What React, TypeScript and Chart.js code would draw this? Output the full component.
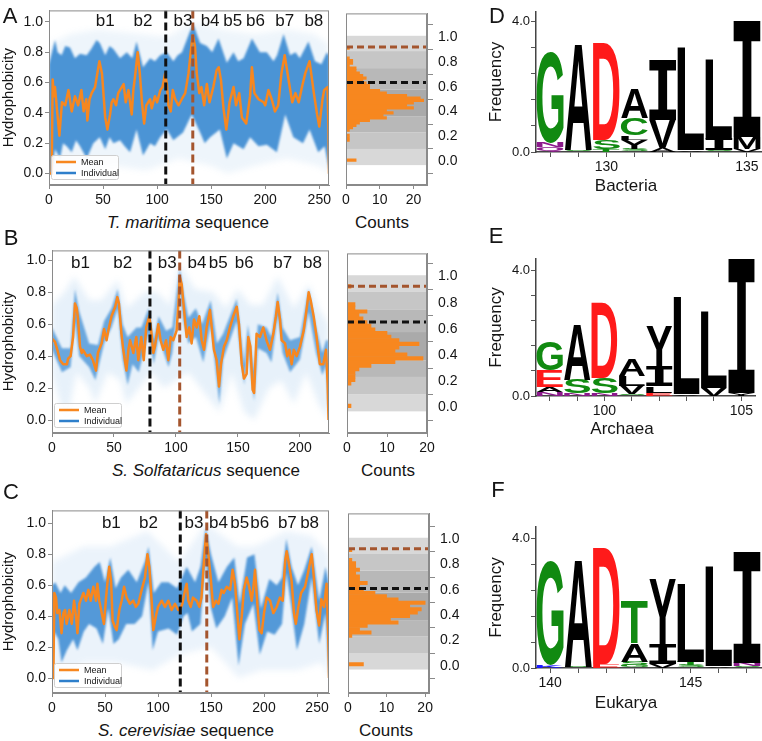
import React, { useEffect, useRef } from 'react';
import { Chart, registerables } from 'chart.js';

// ---------- blur plugin (registered before filler so the fill gets blurred) ----------
const bandBlur = {
  id: 'bandBlur',
  beforeDatasetDraw(chart: any, args: any) {
    const ds: any = chart.data.datasets[args.index];
    if (ds && ds.blurPx) {
      chart.ctx.save();
      chart.ctx.filter = `blur(${ds.blurPx}px)`;
    }
  },
  afterDatasetDraw(chart: any, args: any) {
    const ds: any = chart.data.datasets[args.index];
    if (ds && ds.blurPx) chart.ctx.restore();
  },
};
Chart.register(bandBlur as any);
Chart.register(...registerables);

const FONT = '"Liberation Sans", Arial, Helvetica, sans-serif';
const TXT = '#151515';
const FRAME = '#8a8a8a';
const ORANGE = '#f7871f';
const BROWN = '#a4552e';
const LEGEND_BLUE = '#2e7fcb';

// ---------------- DATA ----------------
const B_LABELS = ['b1', 'b2', 'b3', 'b4', 'b5', 'b6', 'b7', 'b8'];

// Panel A: T. maritima
const meanA: [number, number][] = [
  [0, 0], [2.5, 0], [3.4, 0.62], [4.5, 0.51], [5.5, 0.57], [9.6, 0.25], [12, 0.47], [15, 0.45], [18, 0.55], [21, 0.41],
  [24, 0.51], [27, 0.45], [30, 0.55], [32, 0.41], [34.5, 0.49], [35.5, 0.35], [37.5, 0.49], [39.5, 0.53], [42.6, 0.57],
  [46.6, 0.74], [49, 0.66], [52, 0.37], [54, 0.29], [56.5, 0.39], [58, 0.47], [59.6, 0.49], [62, 0.45], [64, 0.53],
  [69, 0.59], [71, 0.47], [73.5, 0.55], [76.5, 0.39], [78, 0.55], [79.6, 0.64], [82, 0.8], [84, 0.66], [86, 0.47],
  [88, 0.33], [90, 0.45], [93.5, 0.49], [95, 0.43], [98, 0.51], [100, 0.47], [103, 0.55], [105, 0.57], [107.4, 0.66],
  [109, 0.59], [110.5, 0.45], [112.6, 0.41], [114.5, 0.55], [116.7, 0.49], [119.8, 0.45], [122.8, 0.49], [126, 0.53],
  [129, 0.66], [132, 0.86], [133, 0.91], [135, 0.84], [136.7, 0.66], [139, 0.53], [141, 0.57], [143.5, 0.45], [146, 0.59],
  [148.5, 0.47], [152, 0.57], [155, 0.68], [157, 0.7], [159, 0.62], [161.4, 0.43], [164, 0.29], [167, 0.47], [170.7, 0.57],
  [173, 0.45], [176, 0.53], [178.4, 0.37], [182.4, 0.33], [186, 0.51], [187.7, 0.7], [190, 0.53], [193.8, 0.49],
  [198.5, 0.47], [200, 0.45], [203, 0.55], [206, 0.49], [209, 0.41], [212, 0.45], [215, 0.66], [218, 0.78], [222, 0.6],
  [225, 0.47], [228, 0.53], [231, 0.47], [234, 0.57], [237, 0.66], [241, 0.74], [245, 0.53], [248, 0.39], [250, 0.31],
  [253, 0.49], [254.5, 0.55], [257.6, 0.57], [258.5, 0.3], [259, 0.0],
];
const coreUpA: [number, number][] = [
  [0, 0.72], [2, 0.78], [5.6, 0.88], [8, 0.8], [11.7, 0.78], [15, 0.84], [19.4, 0.83], [24, 0.76], [28.7, 0.79], [34.9, 0.78],
  [39, 0.82], [44, 0.88], [47, 0.86], [52, 0.78], [56, 0.84], [59.6, 0.82], [65.7, 0.76], [72, 0.8], [77, 0.76], [81, 0.87],
  [87, 0.7], [93.5, 0.76], [98, 0.74], [102.8, 0.78], [109, 0.8], [115, 0.74], [119, 0.78], [123, 0.8], [130.5, 0.94],
  [133.6, 0.98], [139.8, 0.86], [146, 0.84], [151, 0.8], [156.8, 0.89], [164.5, 0.73], [170.7, 0.8], [175, 0.74], [180, 0.76],
  [187.7, 0.89], [195, 0.8], [201.5, 0.8], [207.7, 0.74], [211, 0.78], [217, 0.92], [223, 0.78], [228, 0.8], [232, 0.76],
  [240, 0.87], [246, 0.74], [252, 0.72], [257, 0.8], [259, 0.78],
];
const coreLoA: [number, number][] = [
  [0, 0], [2.5, 0.0], [5.6, 0.16], [10.2, 0.1], [13, 0.2], [16.4, 0.18], [21, 0.14], [25, 0.22], [28.7, 0.18], [34.9, 0.1],
  [41, 0.2], [47, 0.24], [52, 0.16], [56, 0.24], [59.6, 0.2], [65.7, 0.22], [70, 0.18], [75, 0.14], [81, 0.29], [87, 0.12],
  [93.5, 0.2], [98, 0.18], [102.8, 0.24], [109, 0.29], [115, 0.22], [124, 0.27], [132, 0.39], [139.8, 0.27], [144, 0.2],
  [149, 0.24], [158, 0.29], [164.5, 0.1], [170.7, 0.2], [180, 0.16], [186, 0.24], [193.8, 0.18], [201.5, 0.19],
  [210.8, 0.14], [218.5, 0.39], [226, 0.24], [235, 0.2], [241, 0.29], [249, 0.14], [255, 0.18], [259, 0.02],
];
const haloUpA: [number, number][] = [
  [0, 0.85], [20, 0.92], [45, 0.95], [85, 0.92], [110, 0.9], [133, 1.0], [160, 0.95], [190, 0.92], [220, 0.95], [245, 0.92], [259, 0.85],
];
const haloLoA: [number, number][] = [
  [0, 0.0], [15, 0.0], [40, 0.0], [60, 0.05], [90, 0.02], [120, 0.1], [150, 0.05], [165, 0.0], [190, 0.05], [220, 0.1], [250, 0.05], [259, 0.0],
];
const bPosA = [52, 87, 124, 149, 170, 191, 218, 245];
const dashA = { black: 108, brown: 133 };
const histA_y = [0.01, 0.17, 0.19, 0.21, 0.25, 0.27, 0.29, 0.31, 0.33, 0.35, 0.37, 0.39, 0.41, 0.43, 0.45, 0.47, 0.49, 0.51,
  0.53, 0.55, 0.57, 0.59, 0.61, 0.63, 0.65, 0.67, 0.69, 0.71, 0.73, 0.75, 0.77, 0.79, 0.81, 0.83, 0.91];
const histA_n = [3, 1, 1, 1, 1, 2, 3, 4, 7, 12, 11, 14, 12, 20, 18, 20, 23, 22, 18, 12, 10, 7, 7, 6, 5, 6, 5, 4, 3, 3, 1, 2, 2, 1, 1];
const histDashA = { brown: 0.92, black: 0.635 };

// Panel B: S. Solfataricus
const meanB: [number, number][] = [
  [0, 0.51], [2.4, 0.49], [4.3, 0.44], [6.5, 0.375], [9, 0.35], [12, 0.35], [13, 0.385], [15, 0.4], [17, 0.52], [18.5, 0.73],
  [20, 0.7], [21, 0.63], [22.6, 0.46], [24, 0.42], [25, 0.44], [28, 0.4], [30.6, 0.41], [33, 0.375], [35.5, 0.31], [37, 0.42],
  [40, 0.48], [42, 0.57], [44, 0.5], [45.4, 0.56], [48, 0.65], [51, 0.71], [52.7, 0.77], [54, 0.73], [56, 0.54], [57.5, 0.44],
  [60, 0.31], [61.6, 0.44], [63, 0.5], [65.6, 0.42], [68, 0.52], [69.6, 0.375], [72, 0.52], [74, 0.375], [76, 0.58],
  [78.5, 0.65], [80, 0.56], [81.7, 0.42], [83, 0.46], [85.7, 0.6], [87.6, 0.5], [89.8, 0.44], [92, 0.5], [93.8, 0.375],
  [95.7, 0.52], [97.8, 0.5], [100.5, 0.56], [102, 0.73], [103, 0.9], [104.6, 0.85], [106, 0.73], [108.6, 0.52], [110.7, 0.58],
  [112.6, 0.48], [114.5, 0.63], [116.7, 0.58], [118.8, 0.65], [120.7, 0.5], [122.6, 0.44], [124.7, 0.58], [127.4, 0.69],
  [128.8, 0.58], [130.6, 0.44], [132.8, 0.375], [134.7, 0.21], [136.3, 0.35], [138.7, 0.46], [140.9, 0.5], [143.5, 0.58],
  [146.2, 0.65], [149, 0.71], [150.8, 0.6], [153, 0.35], [154.8, 0.26], [157, 0.29], [158.3, 0.52], [160, 0.46], [161.8, 0.19],
  [163, 0.17], [165, 0.54], [167.7, 0.52], [170.4, 0.58], [173, 0.5], [175.8, 0.44], [178.5, 0.54], [180.6, 0.65], [182, 0.74],
  [183.9, 0.63], [185.2, 0.5], [188, 0.48], [189.8, 0.4], [191.4, 0.44], [193.3, 0.35], [195, 0.44], [197.3, 0.4], [200, 0.46],
  [203, 0.56], [205.6, 0.71], [207, 0.8], [208.6, 0.75], [211, 0.65], [213.4, 0.52], [216, 0.35], [218.8, 0.35], [221, 0.44],
  [222.3, 0.23], [223, 0.0],
];
const coreUpB: [number, number][] = [
  [0, 0.58], [8, 0.45], [15, 0.45], [18.5, 0.82], [22, 0.68], [30, 0.48], [37, 0.47], [42, 0.62], [48, 0.7], [53, 0.82],
  [57, 0.6], [61, 0.52], [68, 0.58], [72, 0.58], [78, 0.7], [82, 0.5], [86, 0.65], [92, 0.56], [97, 0.58], [103, 0.95],
  [106, 0.8], [110, 0.64], [116, 0.7], [121, 0.6], [128, 0.75], [133, 0.48], [138, 0.54], [149, 0.76], [155, 0.35],
  [158, 0.6], [163, 0.3], [166, 0.6], [173, 0.58], [177, 0.52], [182, 0.8], [186, 0.58], [192, 0.5], [200, 0.52],
  [207, 0.82], [213, 0.58], [218, 0.42], [221, 0.5], [223, 0.5],
];
const coreLoB: [number, number][] = [
  [0, 0.44], [8, 0.3], [15, 0.33], [18.5, 0.62], [22, 0.4], [30, 0.33], [35, 0.25], [42, 0.48], [48, 0.58], [53, 0.7],
  [57, 0.38], [61, 0.22], [65, 0.35], [70, 0.3], [78, 0.55], [82, 0.35], [86, 0.52], [94, 0.33], [97, 0.42], [103, 0.82],
  [106, 0.62], [110, 0.48], [116, 0.52], [122, 0.36], [128, 0.6], [135, 0.1], [138, 0.38], [149, 0.62], [155, 0.22],
  [158, 0.45], [163, 0.12], [166, 0.45], [173, 0.42], [177, 0.36], [182, 0.66], [186, 0.42], [192, 0.3], [200, 0.38],
  [207, 0.68], [213, 0.42], [218, 0.28], [221, 0.34], [223, 0.0],
];
const haloUpB: [number, number][] = [
  [0, 0.72], [10, 0.8], [18, 0.9], [30, 0.75], [40, 0.75], [53, 0.88], [60, 0.7], [75, 0.8], [85, 0.8], [95, 0.72],
  [103, 0.98], [115, 0.82], [130, 0.8], [140, 0.7], [150, 0.82], [160, 0.72], [170, 0.72], [182, 0.9], [195, 0.7],
  [207, 0.85], [215, 0.7], [223, 0.6],
];
const haloLoB: [number, number][] = [
  [0, 0.3], [5, 0.15], [12, 0.0], [20, 0.3], [30, 0.2], [35, 0.1], [45, 0.3], [55, 0.25], [60, 0.1], [70, 0.2], [80, 0.3],
  [90, 0.2], [100, 0.25], [110, 0.3], [120, 0.2], [135, 0.05], [145, 0.3], [155, 0.05], [163, 0.0], [175, 0.2], [185, 0.25],
  [195, 0.1], [205, 0.3], [215, 0.1], [223, 0.0],
];
const bPosB = [23, 57, 93, 117, 134, 155, 186, 210];
const dashB = { black: 79, brown: 103 };
const histB_y = [0.012, 0.183, 0.21, 0.238, 0.265, 0.293, 0.32, 0.348, 0.375, 0.403, 0.43, 0.458, 0.485, 0.513, 0.54,
  0.568, 0.595, 0.623, 0.65, 0.678, 0.705, 0.733, 0.76, 0.788, 0.925];
const histB_n = [1, 1, 2, 2, 2, 3, 6, 12, 19, 15, 12, 13, 18, 13, 11, 10, 7, 6, 5, 4, 3, 5, 2, 2, 1];
const histDashB = { brown: 0.925, black: 0.652 };

// Panel C: S. cerevisiae
const meanC: [number, number][] = [
  [0, 0], [1.3, 0], [2.2, 0.55], [3.8, 0.52], [5, 0.42], [7, 0.44], [9, 0.29], [10.7, 0.42], [12.3, 0.44], [13.8, 0.35],
  [16.4, 0.44], [18.6, 0.35], [20.8, 0.5], [22.6, 0.4], [24, 0.29], [25.8, 0.48], [28, 0.52], [29.6, 0.55], [32, 0.5],
  [34.3, 0.57], [36.5, 0.5], [39, 0.59], [41.5, 0.5], [42.8, 0.61], [44.6, 0.5], [46.9, 0.42], [49, 0.35], [51, 0.52],
  [52.2, 0.61], [54, 0.72], [55.7, 0.63], [57.2, 0.37], [59.4, 0.33], [61, 0.31], [63.5, 0.44], [65.7, 0.5], [68, 0.59],
  [70.4, 0.52], [73.6, 0.48], [76.7, 0.5], [79, 0.46], [81.4, 0.48], [84.6, 0.57], [87.7, 0.65], [90, 0.8], [91.8, 0.72],
  [94, 0.5], [95.6, 0.31], [98, 0.4], [100, 0.46], [103.5, 0.5], [106.6, 0.46], [109.7, 0.5], [112.9, 0.44], [116, 0.48],
  [119, 0.44], [120.7, 0.44], [123, 0.48], [125.5, 0.57], [127, 0.61], [128.6, 0.5], [130.8, 0.46], [133, 0.52], [136.5, 0.5],
  [139, 0.46], [141, 0.52], [143.4, 0.76], [145.3, 0.93], [147.5, 0.8], [149.7, 0.65], [152, 0.46], [154.7, 0.5], [157, 0.48],
  [160, 0.57], [162, 0.55], [164.8, 0.59], [168, 0.57], [170.4, 0.7], [172.6, 0.61], [174.8, 0.42], [176.7, 0.25], [179, 0.4],
  [181, 0.57], [183.6, 0.65], [186, 0.59], [188.4, 0.5], [190, 0.59], [191.5, 0.7], [193.7, 0.48], [195.6, 0.31], [197.8, 0.29],
  [200, 0.42], [202.5, 0.52], [205.7, 0.5], [208.8, 0.42], [212, 0.46], [215, 0.52], [217.6, 0.5], [220, 0.76], [221.4, 0.82],
  [224, 0.72], [226, 0.63], [228.3, 0.42], [230, 0.35], [232.4, 0.46], [235, 0.55], [238.7, 0.59], [241.8, 0.69], [245, 0.8],
  [247, 0.65], [249.5, 0.44], [252, 0.34], [254, 0.51], [256.6, 0.46], [259, 0.61], [260.5, 0.3], [261.3, 0.0],
];
const coreUpC: [number, number][] = [
  [0, 0.6], [3, 0.62], [8, 0.55], [12, 0.6], [18, 0.55], [25, 0.62], [32, 0.65], [40, 0.72], [45, 0.75], [50, 0.62],
  [55, 0.78], [60, 0.58], [65, 0.65], [72, 0.7], [80, 0.62], [88, 0.76], [91, 0.85], [96, 0.55], [103, 0.62], [110, 0.62],
  [118, 0.58], [127, 0.72], [135, 0.62], [140, 0.72], [145, 0.97], [150, 0.8], [157, 0.62], [165, 0.72], [172, 0.78],
  [177, 0.48], [184, 0.78], [191, 0.8], [197, 0.45], [205, 0.64], [212, 0.6], [217, 0.65], [221, 0.9], [226, 0.72],
  [232, 0.6], [238, 0.7], [245, 0.85], [252, 0.5], [258, 0.72], [261.3, 0.6],
];
const coreLoC: [number, number][] = [
  [0, 0.0], [2, 0.3], [6, 0.25], [9, 0.1], [14, 0.18], [20, 0.25], [24, 0.18], [30, 0.3], [35, 0.35], [42, 0.32], [48, 0.22],
  [53, 0.45], [58, 0.22], [63, 0.25], [70, 0.35], [78, 0.35], [85, 0.4], [91, 0.62], [95, 0.18], [100, 0.3], [110, 0.32],
  [118, 0.28], [124, 0.4], [128, 0.42], [132, 0.3], [140, 0.35], [145, 0.78], [150, 0.45], [155, 0.32], [163, 0.4], [170, 0.52],
  [176, 0.08], [182, 0.35], [190, 0.48], [196, 0.15], [203, 0.3], [210, 0.28], [217, 0.35], [221, 0.68], [226, 0.45],
  [231, 0.18], [238, 0.35], [245, 0.65], [252, 0.22], [258, 0.42], [261.3, 0.0],
];
const haloUpC: [number, number][] = [
  [0, 0.75], [30, 0.85], [55, 0.85], [90, 0.95], [120, 0.75], [145, 1.0], [175, 0.85], [191, 0.85], [221, 0.95], [245, 0.92], [261.3, 0.8],
];
const haloLoC: [number, number][] = [
  [0, 0.0], [10, 0.0], [30, 0.1], [60, 0.1], [95, 0.05], [120, 0.15], [150, 0.2], [176, 0.0], [197, 0.05], [231, 0.05], [255, 0.1], [261.3, 0.0],
];
const bPosC = [56, 91, 134, 157, 177, 196, 222, 243];
const dashC = { black: 121, brown: 146 };
const histC_y = [0.012, 0.237, 0.263, 0.289, 0.315, 0.341, 0.367, 0.393, 0.419, 0.445, 0.471, 0.497, 0.523, 0.549, 0.575,
  0.601, 0.627, 0.653, 0.679, 0.705, 0.731, 0.757, 0.783, 0.809, 0.835, 0.913];
const histC_n = [4, 1, 6, 3, 5, 13, 11, 16, 18, 19, 16, 20, 13, 10, 7, 4, 3, 5, 3, 3, 2, 3, 2, 2, 1, 1];
const histDashC = { brown: 0.924, black: 0.61 };

// Histogram shading bands (edges, bottom to top)
const bandEdges = [-0.03, 0.1, 0.233, 0.36, 0.576, 0.75, 0.887, 1.01];
const bandColors = ['#d8d8d8', '#c6c6c6', '#b8b8b8', '#aaaaaa', '#b8b8b8', '#c6c6c6', '#d8d8d8'];

// Sequence logos: letters and heights (bits), bottom to top
const logoD_pos = ['128', '129', '130', '131', '132', '133', '134', '135'];
const logoD_letters = [['Q', 'N', 'G'], ['S', 'A'], ['T', 'S', 'D'], ['S', 'Y', 'L', 'C', 'A'], ['A', 'V', 'I'], ['V', 'L'], ['S', 'I', 'L'], ['V', 'M', 'I']];
const logoD_heights = [[0.14, 0.14, 2.8], [0.06, 3.28], [0.08, 0.28, 3.0], [0.1, 0.28, 0.12, 0.54, 0.92], [0.12, 0.87, 1.82], [0.06, 3.16], [0.06, 0.34, 2.42], [0.1, 0.36, 3.54]];

const logoE_pos = ['98', '99', '100', '101', '102', '103', '104', '105'];
const logoE_letters = [['N', 'A', 'E', 'G'], ['N', 'S', 'A'], ['N', 'S', 'D'], ['S', 'V', 'L', 'A'], ['E', 'L', 'I', 'Y'], ['V', 'L'], ['V', 'L'], ['Y', 'I']];
const logoE_heights = [[0.12, 0.17, 0.53, 0.9], [0.08, 0.44, 1.79], [0.08, 0.5, 2.4], [0.07, 0.26, 0.32, 0.53], [0.1, 0.21, 0.63, 1.26], [0.06, 3.08], [0.26, 2.45], [0.08, 4.24]];

const logoF_pos = ['140', '141', '142', '143', '144', '145', '146', '147'];
const logoF_letters = [['K', 'G'], ['S', 'A'], ['E', 'D'], ['G', 'S', 'A', 'T'], ['V', 'I', 'Y'], ['S', 'T', 'L'], ['V', 'L'], ['S', 'N', 'I']];
const logoF_heights = [[0.08, 3.2], [0.04, 3.33], [0.12, 3.58], [0.1, 0.1, 0.56, 1.33], [0.12, 0.61, 2.0], [0.1, 0.1, 2.42], [0.06, 3.06], [0.06, 0.1, 3.42]];

// ---------------- chart builders ----------------
const tickFont = { family: FONT, size: 14 };

function lineDecor(o: any) {
  return {
    id: 'lineDecor',
    afterDatasetsDraw(chart: any) {
      const { ctx, chartArea: ca } = chart;
      const x = chart.scales.x;
      const y = chart.scales.y;
      ctx.save();
      ctx.beginPath();
      ctx.rect(ca.left, ca.top, ca.right - ca.left, ca.bottom - ca.top);
      ctx.clip();
      ctx.lineWidth = 3;
      ctx.setLineDash([8, 4]);
      const lines: [number, string][] = [[o.dash.black, '#111111'], [o.dash.brown, BROWN]];
      lines.forEach(([v, c]) => {
        const px = x.getPixelForValue(v);
        ctx.strokeStyle = c;
        ctx.beginPath();
        ctx.moveTo(px, ca.top);
        ctx.lineTo(px, ca.bottom);
        ctx.stroke();
      });
      ctx.setLineDash([]);
      ctx.fillStyle = TXT;
      ctx.font = `17px ${FONT}`;
      ctx.textAlign = 'center';
      ctx.textBaseline = 'middle';
      o.bPos.forEach((v: number, i: number) => {
        ctx.fillText(B_LABELS[i], x.getPixelForValue(v), y.getPixelForValue(o.bY));
      });
      // legend
      const lx = ca.left + 2, ly = ca.bottom - 30, lw = 67, lh = 24;
      ctx.fillStyle = 'rgba(255,255,255,0.85)';
      ctx.strokeStyle = '#cfcfcf';
      ctx.lineWidth = 1;
      ctx.beginPath();
      if (ctx.roundRect) ctx.roundRect(lx + 0.5, ly + 0.5, lw, lh, 2); else ctx.rect(lx + 0.5, ly + 0.5, lw, lh);
      ctx.fill();
      ctx.stroke();
      ctx.lineWidth = 2.5;
      ctx.strokeStyle = ORANGE;
      ctx.beginPath(); ctx.moveTo(lx + 5, ly + 7); ctx.lineTo(lx + 25, ly + 7); ctx.stroke();
      ctx.strokeStyle = LEGEND_BLUE;
      ctx.beginPath(); ctx.moveTo(lx + 5, ly + 18); ctx.lineTo(lx + 25, ly + 18); ctx.stroke();
      ctx.fillStyle = TXT;
      ctx.font = `9px ${FONT}`;
      ctx.textAlign = 'left';
      ctx.fillText('Mean', lx + 30, ly + 7.5);
      ctx.fillText('Individual', lx + 30, ly + 18.5);
      ctx.restore();
      ctx.save();
      ctx.strokeStyle = FRAME;
      ctx.lineWidth = 1;
      ctx.strokeRect(ca.left + 0.5, ca.top + 0.5, ca.right - ca.left - 1, ca.bottom - ca.top - 1);
      ctx.restore();
    },
  };
}

function makeLineConfig(o: any) {
  return {
    type: 'line',
    data: {
      datasets: [
        { data: o.mean, borderColor: ORANGE, borderWidth: 2.5, pointRadius: 0, fill: false, borderJoinStyle: 'round' },
        { data: [...o.coreUp, ...[...o.coreLo].reverse()], borderWidth: 0, borderColor: 'rgba(0,0,0,0)', backgroundColor: o.coreColor, pointRadius: 0, fill: 'shape', blurPx: 1.3 },
        { data: [...o.haloUp, ...[...o.haloLo].reverse()], borderWidth: 0, borderColor: 'rgba(0,0,0,0)', backgroundColor: o.haloColor, pointRadius: 0, fill: 'shape', blurPx: 3 },
      ],
    },
    options: {
      responsive: false,
      animation: false,
      devicePixelRatio: 1,
      events: [],
      layout: { padding: { top: o.padTop, right: o.padRight, left: 0, bottom: 0 } },
      plugins: { legend: { display: false }, tooltip: { enabled: false } },
      scales: {
        x: {
          type: 'linear', min: 0, max: o.xMax,
          ticks: { stepSize: 50, includeBounds: false, font: tickFont, color: TXT, maxRotation: 0, padding: 3 },
          grid: { drawOnChartArea: false, tickLength: 4, color: FRAME },
          border: { color: FRAME },
          afterFit: (s: any) => { s.height = o.xAxisH; },
        },
        y: {
          type: 'linear', min: o.yMin, max: o.yMax,
          ticks: { stepSize: 0.2, includeBounds: false, font: tickFont, color: TXT, padding: 2, callback: (v: any) => Number(v).toFixed(1) },
          grid: { drawOnChartArea: false, tickLength: 4, color: FRAME },
          border: { color: FRAME },
          title: { display: true, text: 'Hydrophobicity', font: { family: FONT, size: 15 }, color: TXT, padding: { top: 0, bottom: 0 } },
          afterFit: (s: any) => { s.width = o.yAxisW; },
        },
      },
    },
    plugins: [lineDecor(o)],
  };
}

function histDecor(o: any) {
  return {
    id: 'histDecor',
    beforeDatasetsDraw(chart: any) {
      const { ctx, chartArea: ca } = chart;
      const y = chart.scales.y;
      ctx.save();
      ctx.beginPath();
      ctx.rect(ca.left, ca.top, ca.right - ca.left, ca.bottom - ca.top);
      ctx.clip();
      for (let i = 0; i < bandColors.length; i++) {
        const y0 = y.getPixelForValue(bandEdges[i]);
        const y1 = y.getPixelForValue(bandEdges[i + 1]);
        ctx.fillStyle = bandColors[i];
        ctx.fillRect(ca.left, y1, ca.right - ca.left, y0 - y1);
      }
      ctx.restore();
    },
    afterDatasetsDraw(chart: any) {
      const { ctx, chartArea: ca } = chart;
      const y = chart.scales.y;
      ctx.save();
      ctx.lineWidth = 3;
      ctx.setLineDash([7, 4]);
      const lines: [number, string][] = [[o.dash.brown, BROWN], [o.dash.black, '#111111']];
      lines.forEach(([v, c]) => {
        const py = y.getPixelForValue(v);
        ctx.strokeStyle = c;
        ctx.beginPath();
        ctx.moveTo(ca.left, py);
        ctx.lineTo(ca.right, py);
        ctx.stroke();
      });
      ctx.setLineDash([]);
      ctx.strokeStyle = FRAME;
      ctx.lineWidth = 1;
      ctx.strokeRect(ca.left + 0.5, ca.top + 0.5, ca.right - ca.left - 1, ca.bottom - ca.top - 1);
      ctx.restore();
    },
  };
}

function makeHistConfig(o: any) {
  return {
    type: 'bar',
    data: {
      datasets: [{
        data: o.bins.map((b: number, i: number) => ({ x: o.counts[i], y: b })),
        backgroundColor: ORANGE, borderWidth: 0, barPercentage: 1, categoryPercentage: 1,
      }],
    },
    options: {
      indexAxis: 'y',
      responsive: false,
      animation: false,
      devicePixelRatio: 1,
      events: [],
      layout: { padding: { top: o.padTop, left: o.padLeft, right: 0, bottom: 0 } },
      plugins: { legend: { display: false }, tooltip: { enabled: false } },
      scales: {
        x: {
          type: 'linear', min: 0, max: o.xMax,
          ticks: { stepSize: 10, includeBounds: false, font: tickFont, color: TXT, maxRotation: 0, padding: 3 },
          grid: { drawOnChartArea: false, tickLength: 4, color: FRAME },
          border: { color: FRAME },
          afterFit: (s: any) => { s.height = o.xAxisH; },
        },
        y: {
          type: 'linear', position: 'right', min: o.yMin, max: o.yMax,
          ticks: { stepSize: 0.2, includeBounds: false, font: tickFont, color: TXT, padding: 5, callback: (v: any) => Number(v).toFixed(1) },
          grid: { drawOnChartArea: false, tickLength: 6, color: FRAME },
          border: { color: FRAME },
          afterFit: (s: any) => { s.width = o.yAxisW; },
        },
      },
    },
    plugins: [histDecor(o)],
  };
}

const LETTER_COLORS: Record<string, string> = {
  G: '#118a11', S: '#118a11', T: '#118a11', C: '#118a11',
  D: '#ff1a1a', E: '#ff1a1a',
  N: '#8b1a8b', Q: '#8b1a8b',
  K: '#1a1aff', R: '#1a1aff', H: '#1a1aff',
};
// glyph fonts: serif-style "I" like classic logos, bold sans for the rest
const GLYPH_FONT: Record<string, string> = { I: 'bold 100px "DejaVu Sans Mono", "Liberation Mono", monospace' };

function drawGlyph(ctx: any, L: string, left: number, top: number, w: number, h: number) {
  ctx.save();
  ctx.font = GLYPH_FONT[L] || `bold 100px ${FONT}`;
  ctx.textAlign = 'left';
  ctx.textBaseline = 'alphabetic';
  const m = ctx.measureText(L);
  const gw = m.actualBoundingBoxLeft + m.actualBoundingBoxRight;
  const gh = m.actualBoundingBoxAscent + m.actualBoundingBoxDescent;
  ctx.translate(left, top);
  ctx.scale(w / gw, h / gh);
  ctx.fillStyle = LETTER_COLORS[L] || '#000000';
  ctx.fillText(L, m.actualBoundingBoxLeft, m.actualBoundingBoxAscent);
  ctx.restore();
}

function logoLetters(letters: string[][]) {
  return {
    id: 'logoLetters',
    afterDatasetsDraw(chart: any) {
      const ctx = chart.ctx;
      chart.data.datasets.forEach((_ds: any, k: number) => {
        const meta = chart.getDatasetMeta(k);
        meta.data.forEach((el: any, j: number) => {
          const L = letters[j][k];
          if (!L) return;
          const p = el.getProps(['x', 'y', 'base', 'width'], true);
          const top = Math.min(p.y, p.base);
          const h = Math.abs(p.base - p.y);
          if (h < 0.4) return;
          drawGlyph(ctx, L, p.x - p.width / 2, top, p.width, h);
        });
      });
    },
  };
}

function makeLogoConfig(o: any) {
  const nLayers = Math.max(...o.heights.map((h: number[]) => h.length));
  const datasets = [];
  for (let k = 0; k < nLayers; k++) {
    datasets.push({
      data: o.heights.map((h: number[]) => h[k] ?? 0),
      backgroundColor: 'rgba(0,0,0,0)', borderWidth: 0,
      barPercentage: 0.96, categoryPercentage: 1, stack: 'logo',
    });
  }
  return {
    type: 'bar',
    data: { labels: o.labels, datasets },
    options: {
      responsive: false,
      animation: false,
      devicePixelRatio: 1,
      events: [],
      layout: { padding: { top: o.padTop, right: o.padRight, left: 0, bottom: 0 } },
      plugins: { legend: { display: false }, tooltip: { enabled: false } },
      scales: {
        x: {
          stacked: true,
          ticks: { autoSkip: false, maxRotation: 0, font: tickFont, color: TXT, padding: 2,
            callback: (_v: any, i: number) => (o.shown.includes(o.labels[i]) ? o.labels[i] : '') },
          grid: { offset: false, drawOnChartArea: false, tickLength: 5, color: '#555555' },
          border: { color: '#444444', width: 1.5 },
          afterFit: (s: any) => { s.height = o.xAxisH; },
        },
        y: {
          stacked: true, min: 0, max: o.yMax,
          ticks: { stepSize: 0.4, includeBounds: false, font: { family: FONT, size: 13 }, color: TXT, padding: 1,
            callback: (v: any) => { const n = Number(v) / 2; return Math.abs(n - Math.round(n)) < 1e-6 ? Number(v).toFixed(1) : ''; } },
          grid: { drawOnChartArea: false, tickLength: 5, color: '#555555' },
          border: { color: '#444444', width: 1.5 },
          title: { display: true, text: 'Frequency', font: { family: FONT, size: 17 }, color: TXT, padding: { top: 6, bottom: 0 } },
          afterFit: (s: any) => { s.width = o.yAxisW; },
        },
      },
    },
    plugins: [logoLetters(o.letters)],
  };
}

// ---------------- components ----------------
function ChartBox({ left, top, width, height, config }: any) {
  const ref = useRef<HTMLCanvasElement>(null);
  useEffect(() => {
    const chart = new Chart(ref.current as HTMLCanvasElement, config() as any);
    return () => chart.destroy();
  }, []);
  return (
    <canvas ref={ref} width={width} height={height}
      style={{ position: 'absolute', left, top, width, height, display: 'block' }} />
  );
}

function Txt({ x, y, size, children }: any) {
  return (
    <div style={{
      position: 'absolute', left: x, top: y, transform: 'translate(-50%, -50%)',
      fontSize: size, lineHeight: 1, whiteSpace: 'nowrap', fontFamily: FONT, color: TXT,
    }}>{children}</div>
  );
}

export default function App() {
  const rows = [
    { top: 0, h: 212, bottom: 185, padTop: 1, yMin: -0.075, yMax: 1.075, yAxisW: 49, mean: meanA, coreUp: coreUpA, coreLo: coreLoA, haloUp: haloUpA, haloLo: haloLoA, xMax: 259, bPos: bPosA, bY: 1.0, dash: dashA, coreColor: 'rgba(58,138,210,0.9)', haloColor: 'rgba(70,145,215,0.09)',
      hist: { bins: histA_y, counts: histA_n, xMax: 24, padLeft: 11, yAxisW: 43, dash: histDashA } },
    { top: 240, h: 220, bottom: 433, padTop: 10, yMin: -0.081, yMax: 1.0625, yAxisW: 52, mean: meanB, coreUp: coreUpB, coreLo: coreLoB, haloUp: haloUpB, haloLo: haloLoB, xMax: 223.4, bPos: bPosB, bY: 0.98, dash: dashB, coreColor: 'rgba(58,138,210,0.72)', haloColor: 'rgba(70,145,215,0.13)',
      hist: { bins: histB_y, counts: histB_n, xMax: 20, padLeft: 12, yAxisW: 43, dash: histDashB } },
    { top: 500, h: 220, bottom: 693, padTop: 10, yMin: -0.097, yMax: 1.084, yAxisW: 52, mean: meanC, coreUp: coreUpC, coreLo: coreLoC, haloUp: haloUpC, haloLo: haloLoC, xMax: 261.3, bPos: bPosC, bY: 1.0, dash: dashC, coreColor: 'rgba(58,138,210,0.85)', haloColor: 'rgba(70,145,215,0.11)',
      hist: { bins: histC_y, counts: histC_n, xMax: 21, padLeft: 13, yAxisW: 41, dash: histDashC } },
  ];
  const logos = [
    { top: 0, h: 200, padTop: 12, padRight: 1, xAxisH: 48, yMax: 4.3, labels: logoD_pos, letters: logoD_letters, heights: logoD_heights, shown: ['130', '135'] },
    { top: 240, h: 200, padTop: 19, padRight: 7, xAxisH: 44, yMax: 4.35, labels: logoE_pos, letters: logoE_letters, heights: logoE_heights, shown: ['100', '105'] },
    { top: 500, h: 215, padTop: 27, padRight: 1, xAxisH: 47, yMax: 4.34, labels: logoF_pos, letters: logoF_letters, heights: logoF_heights, shown: ['140', '145'] },
  ];
  return (
    <div style={{ position: 'absolute', left: 0, top: 0, width: 762, height: 741, background: '#ffffff', overflow: 'hidden', fontFamily: FONT }}>
      {rows.map((r, i) => (
        <React.Fragment key={i}>
          <ChartBox left={0} top={r.top} width={335} height={r.h}
            config={() => makeLineConfig({ ...r, padRight: 6, xAxisH: r.top + r.h - r.bottom })} />
          <ChartBox left={335} top={r.top} width={135} height={r.h}
            config={() => makeHistConfig({ ...r.hist, padTop: r.padTop, yMin: r.yMin, yMax: r.yMax, xAxisH: r.top + r.h - r.bottom })} />
        </React.Fragment>
      ))}
      {logos.map((l, i) => (
        <ChartBox key={'l' + i} left={480} top={l.top} width={282} height={l.h}
          config={() => makeLogoConfig({ ...l, yAxisW: 56 })} />
      ))}
      <Txt x={10} y={16} size={22}>A</Txt>
      <Txt x={11} y={238} size={22}>B</Txt>
      <Txt x={11} y={492} size={22}>C</Txt>
      <Txt x={497} y={16} size={22}>D</Txt>
      <Txt x={496} y={236} size={22}>E</Txt>
      <Txt x={498} y={490} size={22}>F</Txt>
      <Txt x={188} y={222} size={17}><i>T. maritima</i> sequence</Txt>
      <Txt x={206} y={470} size={17}><i>S. Solfataricus</i> sequence</Txt>
      <Txt x={186} y={730} size={17}><i>S. cerevisiae</i> sequence</Txt>
      <Txt x={382} y={222} size={17}>Counts</Txt>
      <Txt x={388} y={470} size={17}>Counts</Txt>
      <Txt x={386} y={730} size={17}>Counts</Txt>
      <Txt x={626} y={185} size={17}>Bacteria</Txt>
      <Txt x={622} y={428} size={17}>Archaea</Txt>
      <Txt x={626} y={702} size={17}>Eukarya</Txt>
    </div>
  );
}
